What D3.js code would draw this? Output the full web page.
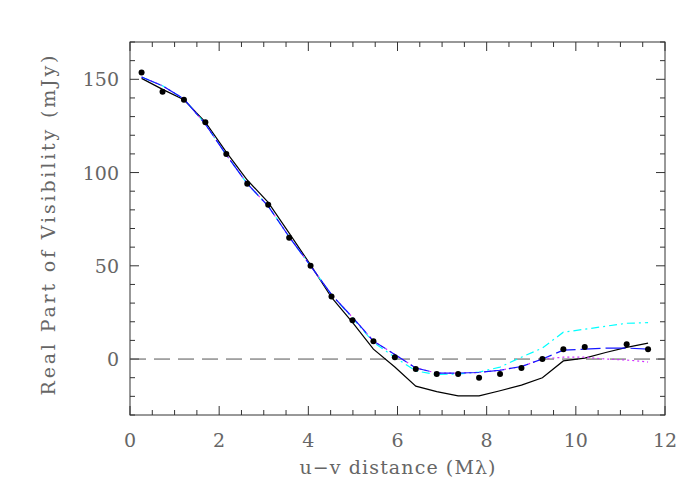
<!DOCTYPE html>
<html>
<head>
<meta charset="utf-8">
<script src="https://cdn.jsdelivr.net/npm/d3@7"></script>
<style>
  body { margin: 0; background: #fff; }
  svg text { font-family: "DejaVu Serif", serif; fill: #666; }
</style>
</head>
<body>
<script>
// u-v distances (M lambda) where data and models are sampled
var uvDist = [0.26, 0.73, 1.21, 1.69, 2.16, 2.63, 3.10, 3.57, 4.05, 4.52, 4.99, 5.46,
              5.94, 6.41, 6.88, 7.36, 7.83, 8.30, 8.78, 9.25, 9.72, 10.20, 10.67, 11.14, 11.62];

// observed real visibility (mJy), null = no point
var observed = [153.7, 143.3, 139, 127, 110, 94, 82.7, 65, 50, 33.6, 20.8, 9.6,
                1, -5.3, -8, -8, -10, -8, -4.8, 0, 5.3, 6.5, null, 8, 5.3];

// model curves
var modelBlack   = [150.5, 144.6, 139, 127, 111, 96, 84, 67.5, 50.5, 33, 19.7, 5.3,
                    -4.3, -14.5, -17.5, -19.7, -19.7, -17, -14, -10, -1, 0.5, 3.5, 6.3, 8.5];
var modelBlue    = [151.2, 146.5, 139.5, 126, 109.5, 94, 82, 65.5, 50, 34.5, 22.4, 9.6,
                    2.5, -4.8, -7.5, -7.5, -7.2, -6, -4, 0, 4.8, 5.3, 5.9, 5.9, 5.3];
var modelCyan    = [151.2, 146.5, 139.5, 126, 109.5, 94, 82, 65.5, 50, 34.5, 22, 9,
                    1, -6.4, -8.3, -8, -7, -4.3, 1, 5.9, 14.4, 16, 17.6, 19.2, 19.5];
var modelMagenta = [151.2, 146.5, 139.5, 126, 109.5, 94, 82, 65.5, 50, 34.5, 22.4, 9.6,
                    2.5, -4.8, -7.5, -7.5, -7.2, -6, -4, 0, 1, 1, 0, -0.5, -1.6];

var xTicks = [0, 2, 4, 6, 8, 10, 12];
var yTicks = [0, 50, 100, 150];

var margin = {top: 42, right: 35, bottom: 85, left: 130},
    width = 700 - margin.left - margin.right,
    height = 500 - margin.top - margin.bottom;

var x = d3.scaleLinear().domain([0, 12]).range([0, width]);
var y = d3.scaleLinear().domain([-30, 170]).range([height, 0]);

var svg = d3.select("body").append("svg")
    .attr("width", 700)
    .attr("height", 500)
  .append("g")
    .attr("transform", "translate(" + margin.left + "," + margin.top + ")");

// frame
svg.append("rect")
    .attr("width", width).attr("height", height)
    .attr("fill", "none").attr("stroke", "#333").attr("stroke-width", 1);

// inward ticks on all four sides
var xMinor = d3.range(0, 12.01, 0.5);
var yMinor = d3.range(-30, 170.01, 10);
function tickLen(v, step) { return Math.abs(v / step - Math.round(v / step)) < 1e-6 ? 9 : 5; }

svg.selectAll(".xt").data(xMinor).enter().append("path")
    .attr("d", function(d) {
      var px = x(d), l = tickLen(d, 2);
      return "M" + px + "," + height + "v" + (-l) + "M" + px + ",0v" + l;
    })
    .attr("stroke", "#333");

svg.selectAll(".yt").data(yMinor).enter().append("path")
    .attr("d", function(d) {
      var py = y(d), l = tickLen(d, 50);
      return "M0," + py + "h" + l + "M" + width + "," + py + "h" + (-l);
    })
    .attr("stroke", "#333");

// tick labels
svg.selectAll(".xl").data(xTicks).enter().append("text")
    .attr("x", function(d) { return x(d); })
    .attr("y", height + 32)
    .attr("text-anchor", "middle")
    .style("font-size", "19px")
    .text(function(d) { return d; });

svg.selectAll(".yl").data(yTicks).enter().append("text")
    .attr("x", -11)
    .attr("y", function(d) { return y(d) + 7; })
    .attr("text-anchor", "end")
    .style("font-size", "19px")
    .text(function(d) { return d; });

// axis titles
svg.append("text")
    .attr("x", width / 2)
    .attr("y", height + 59)
    .attr("text-anchor", "middle")
    .attr("textLength", 196).attr("lengthAdjust", "spacing")
    .style("font-size", "19px")
    .text("u\u2212v distance (M\u03bb)");

svg.append("text")
    .attr("transform", "translate(-75," + (height / 2 - 3) + ") rotate(-90)")
    .attr("text-anchor", "middle")
    .attr("textLength", 340).attr("lengthAdjust", "spacing")
    .style("font-size", "19px")
    .text("Real Part of Visibility (mJy)");

// zero line
svg.append("line")
    .attr("x1", 0).attr("x2", width)
    .attr("y1", y(0)).attr("y2", y(0))
    .attr("stroke", "#555").attr("stroke-dasharray", "16,8");

// model curves
var line = d3.line()
    .x(function(d, i) { return x(uvDist[i]); })
    .y(function(d) { return y(d); });

var models = [
  {vals: modelBlack,   color: "#000",    dash: null},
  {vals: modelCyan,    color: "#00ffff", dash: "8,4,2,4"},
  {vals: modelMagenta, color: "#d030ff", dash: "2,3"},
  {vals: modelBlue,    color: "#1515ff", dash: "20,5"}
];

svg.selectAll(".model").data(models).enter().append("path")
    .attr("class", "model")
    .attr("d", function(d) { return line(d.vals); })
    .attr("fill", "none")
    .attr("stroke", function(d) { return d.color; })
    .attr("stroke-width", 1.2)
    .attr("stroke-dasharray", function(d) { return d.dash; });

// observed points
var pts = observed.map(function(v, i) { return {u: uvDist[i], v: v}; })
    .filter(function(d) { return d.v !== null; });

svg.selectAll(".dot").data(pts).enter().append("circle")
    .attr("cx", function(d) { return x(d.u); })
    .attr("cy", function(d) { return y(d.v); })
    .attr("r", 3)
    .attr("fill", "#000");
</script>
</body>
</html>
